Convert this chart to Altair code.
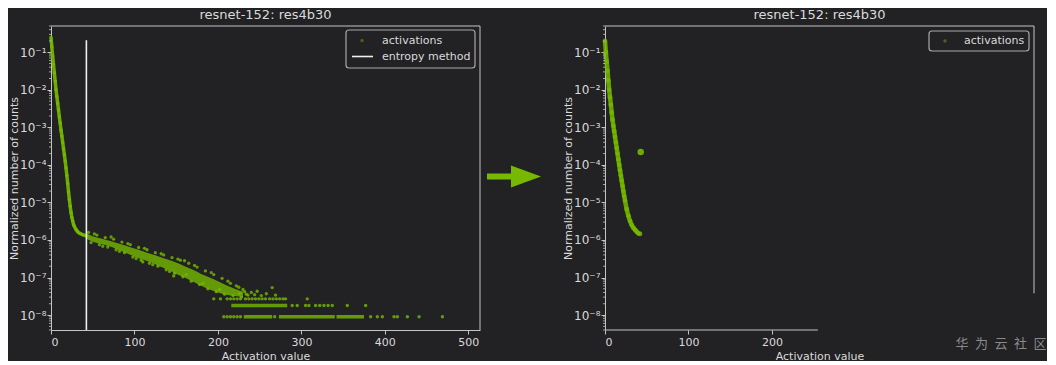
import altair as alt
import pandas as pd

# ---------------- text ----------------
TITLE = "resnet-152: res4b30"
X_LABEL = "Activation value"
Y_LABEL = "Normalized number of counts"
LEG_POINTS = "activations"
LEG_LINE = "entropy method"
WATERMARK = "华\u2002为\u2002云\u2002社\u2002区"

# ---------------- ticks / domains ----------------
X_TICKS_LEFT = [0, 100, 200, 300, 400, 500]
X_TICKS_RIGHT = [0, 100, 200]
Y_TICKS = [1e-8, 1e-7, 1e-6, 1e-5, 1e-4, 1e-3, 1e-2, 1e-1]
Y_MINOR = [m * 10.0 ** e for e in range(-9, 0) for m in range(2, 10) if 4e-9 <= m * 10.0 ** e <= 0.5]
X_DOMAIN = [0, 514]
Y_DOMAIN = [4e-9, 0.5]

# ---------------- left panel data ----------------
curve_l_x = [0, 1, 2, 3, 4, 5, 6, 7, 8, 9, 10, 11, 12, 13, 14, 15, 16, 17, 18, 19, 20,
             21, 22, 23, 24, 25, 26, 27, 28, 30, 32, 35, 38, 42]
curve_l_y = [0.25, 0.14, 0.079, 0.047, 0.028, 0.017, 0.01, 0.0066, 0.0044, 0.0029, 0.0019,
             0.0013, 0.00085, 0.00059, 0.0004, 0.00027, 0.00019, 0.000126, 8.3e-5, 5.2e-5,
             3.2e-5, 1.9e-5, 1.2e-5, 7.9e-6, 5.4e-6, 4e-6, 3.2e-6, 2.6e-6, 2.3e-6, 1.9e-6,
             1.66e-6, 1.48e-6, 1.38e-6, 1.29e-6]

band_x = [42, 50, 60, 70, 80, 90, 100, 110, 120, 130, 140, 150, 160, 170, 180, 190, 200, 210,
          220, 230]
band_hi = [1.5e-6, 1.25e-6, 1.1e-6, 9.5e-7, 8.2e-7, 7e-7, 5.9e-7, 5e-7, 4.2e-7, 3.6e-7, 3e-7,
           2.5e-7, 2e-7, 1.6e-7, 1.25e-7, 1e-7, 8e-8, 6.2e-8, 5e-8, 4.2e-8]
band_lo = [1.1e-6, 9e-7, 7.8e-7, 6.8e-7, 5.6e-7, 4.5e-7, 3.6e-7, 3e-7, 2.5e-7, 2e-7, 1.6e-7,
           1.25e-7, 1e-7, 7.8e-8, 6e-8, 4.8e-8, 4e-8, 3.5e-8, 3.2e-8, 3e-8]

scatter_x = [45, 48, 55, 58, 65, 68, 75, 78, 85, 88, 95, 98, 105, 108, 115, 118, 125, 128, 135,
             138, 145, 147, 148, 155, 158, 165, 168, 175, 178, 185, 188, 195, 198, 205, 208, 215,
             218, 225, 228, 232, 236, 240, 247, 265, 269,
             52, 62, 72, 82, 92, 102, 112, 122, 132, 142, 152, 162, 172, 182, 192, 202, 212,
             222, 226, 230, 234, 244, 252, 258, 110, 160]
scatter_y = [1.6e-6, 8.5e-7, 1.35e-6, 7.5e-7, 1.15e-6, 6.5e-7, 1.05e-6, 5.5e-7, 8.8e-7, 4.6e-7,
             7.5e-7, 3.5e-7, 6.3e-7, 2.9e-7, 5.5e-7, 2.4e-7, 4.6e-7, 2e-7, 4e-7, 1.6e-7, 3.4e-7,
             1.1e-7, 1.3e-7, 2.9e-7, 1.05e-7, 2.4e-7, 8e-8, 1.9e-7, 6.5e-8, 1.5e-7, 5e-8, 1.2e-7,
             4.2e-8, 9.5e-8, 3.6e-8, 7e-8, 3.3e-8, 5.5e-8, 3e-8, 4.2e-8, 3.4e-8, 4e-8, 4.3e-8,
             5.4e-8, 3.4e-8,
             1.45e-6, 6.8e-7, 1.2e-6, 5e-7, 8e-7, 3.2e-7, 6e-7, 2.2e-7, 4.3e-7, 1.45e-7, 3.1e-7,
             1.2e-7, 2.1e-7, 7e-8, 1.35e-7, 4.8e-8, 8e-8, 6e-8, 3.8e-8, 4.8e-8, 3.6e-8, 3.5e-8,
             3.3e-8, 3.7e-8, 2.6e-7, 2.8e-7]

# quantised count levels (1, 2, 3 counts)
seg_x = [231, 273, 342, 216]
seg_x2 = [265, 340, 375, 283]
seg_y = [9e-9, 9e-9, 9e-9, 1.8e-8]

lvl_x = [207, 211, 215, 219, 223, 227, 268, 383, 391, 397, 411, 415, 427, 441, 469,
         289, 295, 305, 309, 317, 322, 327, 332, 337, 355, 377,
         195, 203, 211, 215, 219, 223, 227, 233, 237, 241, 245, 249, 253, 257, 262, 266, 270,
         274, 278, 281, 307]
lvl_y = [9e-9] * 15 + [1.8e-8] * 11 + [2.7e-8] * 21

ENTROPY_X = 42.4
ENTROPY_TOP = 0.21

# ---------------- right panel data ----------------
curve_r_x = [0, 1, 2, 3, 4, 5, 6, 7, 8, 9, 10, 11, 12, 13, 14, 15, 16, 17, 18, 19, 20, 21,
             22, 23, 24, 26, 28, 30, 32, 34, 36, 38, 40, 42]
curve_r_y = [0.2, 0.1, 0.056, 0.032, 0.0178, 0.01, 0.0063, 0.004, 0.0025, 0.0016, 0.0011,
             0.00079, 0.00056, 0.0004, 0.00028, 0.0002, 0.00014, 0.0001, 7.2e-5, 5.2e-5,
             3.8e-5, 2.75e-5, 2e-5, 1.48e-5, 1.12e-5, 6.6e-6, 4.4e-6, 3.2e-6, 2.5e-6, 2.1e-6,
             1.86e-6, 1.66e-6, 1.51e-6, 1.45e-6]
outlier_x = [42.8]
outlier_y = [2.2e-4]
R_RIGHT_EDGE_BOTTOM = 3.8e-8
R_BOTTOM_EDGE_END = 255

# ---------------- styling ----------------
W, H = 429, 304
GREEN = "#76b900"
BG = "#222124"
FG = "#dadada"
EDGE = "#c4c4c4"
FONT = "DejaVu Sans"

xs = alt.Scale(domain=X_DOMAIN, nice=False, zero=False)
ysc = alt.Scale(type="log", domain=Y_DOMAIN, nice=False)

SUP = "['⁰','⁻¹','⁻²','⁻³','⁻⁴','⁻⁵','⁻⁶','⁻⁷','⁻⁸','⁻⁹']"
Y_AXIS = alt.Axis(values=Y_TICKS, title=Y_LABEL, labelFontSize=12, labelPadding=1,
                  labelExpr="'10' + " + SUP + "[round(-log(datum.value)/LN10)]",
                  titlePadding=0)
X_AXIS_L = alt.Axis(values=X_TICKS_LEFT, title=X_LABEL, titlePadding=3)
X_AXIS_R = alt.Axis(values=X_TICKS_RIGHT, title=X_LABEL, titlePadding=3, domain=False)


def one():
    return pd.DataFrame({"k": [0]})


def panel_layers(xaxis, top_x2, right_y0):
    def X(f="x"):
        return alt.X(f + ":Q", scale=xs, axis=xaxis)

    def Y(f="y"):
        return alt.Y(f + ":Q", scale=ysc, axis=Y_AXIS)

    top = alt.Chart(pd.DataFrame({"x": [X_DOMAIN[0]], "x2": [top_x2], "y": [Y_DOMAIN[1]]})).mark_rule(
        color=EDGE, strokeWidth=1).encode(x=X(), x2="x2:Q", y=Y())
    right = alt.Chart(pd.DataFrame({"x": [X_DOMAIN[1]], "y": [right_y0], "y2": [Y_DOMAIN[1]]})).mark_rule(
        color=EDGE, strokeWidth=1).encode(x=X(), y=Y(), y2="y2:Q")
    minor = alt.Chart(pd.DataFrame({"y": Y_MINOR})).mark_rule(color=EDGE, strokeWidth=0.8).encode(
        x=alt.value(-2), x2=alt.value(0), y=Y())
    return X, Y, [top, right, minor]


# ---------------- left panel ----------------
XL, YL, frame_l = panel_layers(X_AXIS_L, X_DOMAIN[1], Y_DOMAIN[0])

band = alt.Chart(pd.DataFrame({"x": band_x, "lo": band_lo, "hi": band_hi})).mark_area(
    color=GREEN, opacity=0.8, interpolate="monotone").encode(x=XL(), y=YL("lo"), y2="hi:Q")

scatter = alt.Chart(pd.DataFrame({"x": scatter_x, "y": scatter_y})).mark_circle(
    color=GREEN, size=11, opacity=0.8).encode(x=XL(), y=YL())

curve_l_df = pd.DataFrame({"x": curve_l_x, "y": curve_l_y})
curve_l_line = alt.Chart(curve_l_df).mark_line(color=GREEN, strokeWidth=3.5, opacity=0.9,
                                               interpolate="monotone").encode(x=XL(), y=YL())
curve_l_pts = alt.Chart(curve_l_df).mark_circle(color=GREEN, size=12, opacity=0.85).encode(x=XL(), y=YL())

segs = alt.Chart(pd.DataFrame({"x": seg_x, "x2": seg_x2, "y": seg_y})).mark_rule(
    color=GREEN, strokeWidth=3.5, opacity=0.8).encode(x=XL(), x2="x2:Q", y=YL())
lvl = alt.Chart(pd.DataFrame({"x": lvl_x, "y": lvl_y})).mark_circle(
    color=GREEN, size=12, opacity=0.8).encode(x=XL(), y=YL())

entropy = alt.Chart(pd.DataFrame({"x": [ENTROPY_X], "y": [Y_DOMAIN[0]], "y2": [ENTROPY_TOP]})).mark_rule(
    color="#f0f0f0", strokeWidth=1.6).encode(x=XL(), y=YL(), y2="y2:Q")

leg_box_l = alt.Chart(one()).mark_rect(fill=BG, stroke="#a8a8a8", strokeWidth=1.2, cornerRadius=3).encode(
    x=alt.value(295), x2=alt.value(424), y=alt.value(4), y2=alt.value(42))
leg_dot_l = alt.Chart(one()).mark_circle(color=GREEN, size=12, opacity=0.45).encode(
    x=alt.value(311), y=alt.value(14.5))
leg_line_l = alt.Chart(one()).mark_rule(color="#f0f0f0", strokeWidth=1.6).encode(
    x=alt.value(301), x2=alt.value(322), y=alt.value(30.5))
leg_txt_l1 = alt.Chart(one()).mark_text(text=LEG_POINTS, align="left", baseline="middle",
                                        color=FG, fontSize=11, font=FONT).encode(
    x=alt.value(331), y=alt.value(14.5))
leg_txt_l2 = alt.Chart(one()).mark_text(text=LEG_LINE, align="left", baseline="middle",
                                        color=FG, fontSize=11, font=FONT).encode(
    x=alt.value(331), y=alt.value(30.5))

arrow_shaft = alt.Chart(one()).mark_rule(color=GREEN, strokeWidth=6).encode(
    x=alt.value(436), x2=alt.value(462), y=alt.value(150.5))
arrow_head = alt.Chart(one()).mark_point(shape="M-1,-0.733L1,0L-1,0.733Z", size=900, filled=True,
                                         color=GREEN, opacity=1).encode(
    x=alt.value(475), y=alt.value(150.5))

left = alt.layer(
    curve_l_pts, band, scatter, curve_l_line, segs, lvl, entropy,
    *frame_l,
    leg_box_l, leg_dot_l, leg_line_l, leg_txt_l1, leg_txt_l2,
    arrow_shaft, arrow_head,
).properties(width=W, height=H, title=TITLE)

# ---------------- right panel ----------------
XR, YR, frame_r = panel_layers(X_AXIS_R, X_DOMAIN[1], R_RIGHT_EDGE_BOTTOM)

curve_r_df = pd.DataFrame({"x": curve_r_x, "y": curve_r_y})
curve_r_line = alt.Chart(curve_r_df).mark_line(color=GREEN, strokeWidth=4.5, opacity=0.85,
                                               interpolate="monotone").encode(x=XR(), y=YR())
curve_r_pts = alt.Chart(curve_r_df).mark_circle(color=GREEN, size=22, opacity=0.8).encode(x=XR(), y=YR())
outlier = alt.Chart(pd.DataFrame({"x": outlier_x, "y": outlier_y})).mark_circle(
    color=GREEN, size=42, opacity=0.9).encode(x=XR(), y=YR())
bottom_r = alt.Chart(pd.DataFrame({"x": [X_DOMAIN[0]], "x2": [R_BOTTOM_EDGE_END], "y": [Y_DOMAIN[0]]})).mark_rule(
    color=EDGE, strokeWidth=1).encode(x=XR(), x2="x2:Q", y=YR())

leg_box_r = alt.Chart(one()).mark_rect(fill=BG, stroke="#a8a8a8", strokeWidth=1.2, cornerRadius=3).encode(
    x=alt.value(324), x2=alt.value(424), y=alt.value(5), y2=alt.value(25))
leg_dot_r = alt.Chart(one()).mark_circle(color=GREEN, size=12, opacity=0.45).encode(
    x=alt.value(340), y=alt.value(15))
leg_txt_r = alt.Chart(one()).mark_text(text=LEG_POINTS, align="left", baseline="middle",
                                       color=FG, fontSize=11, font=FONT).encode(
    x=alt.value(359), y=alt.value(15))
watermark = alt.Chart(one()).mark_text(text=WATERMARK, align="center", baseline="middle",
                                       color="#8a8a8a", fontSize=13, font="Noto Sans CJK SC").encode(
    x=alt.value(396), y=alt.value(318))

right = alt.layer(
    curve_r_pts, curve_r_line, outlier, bottom_r,
    *frame_r,
    leg_box_r, leg_dot_r, leg_txt_r, watermark,
).properties(width=W, height=H, title=TITLE)

chart = alt.hconcat(left, right, spacing=125, bounds="flush").properties(
    padding={"left": 0, "top": 0, "right": 0, "bottom": 0},
    background=BG,
).configure_view(stroke=None).configure_axis(
    grid=False, labelColor=FG, titleColor=FG, tickColor=EDGE, domainColor=EDGE,
    labelFont=FONT, titleFont=FONT, labelFontSize=11, titleFontSize=11,
    titleFontWeight="normal", tickSize=4, labelPadding=2, domainWidth=1, tickWidth=1,
).configure_title(
    font=FONT, fontSize=13, fontWeight="normal", color=FG, offset=4, anchor="middle",
)

chart.save("out.html", embed_options={"renderer": "svg", "actions": False})
